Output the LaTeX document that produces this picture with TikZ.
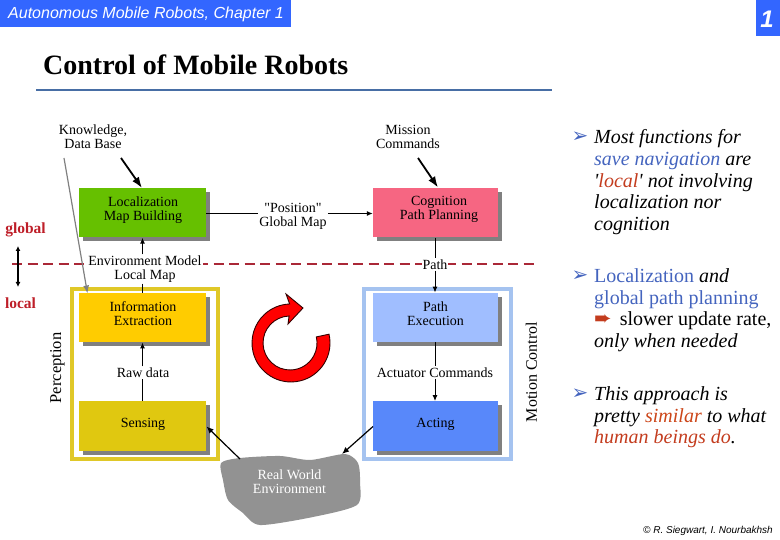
\documentclass[tikz,border=0pt]{standalone}
\usepackage{fontspec}
\setmainfont{Liberation Serif}
\newfontfamily\rawserif{Liberation Serif}
\newfontfamily\arialf{Liberation Sans}
\newfontfamily\dejavu{DejaVu Sans}
\usetikzlibrary{arrows.meta,calc}
\definecolor{hdrblue}{RGB}{51,102,255}
\definecolor{rulecol}{RGB}{72,110,165}
\definecolor{locgreen}{RGB}{102,192,0}
\definecolor{cogpink}{RGB}{246,102,130}
\definecolor{infoyel}{RGB}{255,204,0}
\definecolor{senseyel}{RGB}{224,200,16}
\definecolor{pathblue}{RGB}{160,190,255}
\definecolor{actblue}{RGB}{88,136,250}
\definecolor{framey}{RGB}{224,200,40}
\definecolor{frameb}{RGB}{165,195,240}
\definecolor{shadowg}{RGB}{128,128,128}
\definecolor{blobg}{RGB}{146,146,146}
\definecolor{dashred}{RGB}{170,40,55}
\definecolor{txtblue}{RGB}{68,100,190}
\definecolor{txtred}{RGB}{195,60,30}
\definecolor{labred}{RGB}{190,30,40}
\tikzset{
  x=1pt,y=1pt,
  blockbox/.style={minimum width=#1,minimum height=49.5pt,inner sep=0pt},
  lab/.style={font=\fontsize{14}{14}\selectfont,align=center,inner sep=1pt},
  wlab/.style={lab,fill=white},
  flow/.style={draw=black,line width=1pt,-{Latex[length=6pt,width=5pt]}},
  flowthick/.style={draw=black,line width=1.8pt,-{Latex[length=11pt,width=8pt]}},
  flowmid/.style={draw=black,line width=1.2pt,-{Latex[length=7pt,width=6pt]}},
  plain/.style={draw=black,line width=1pt},
  para/.style={anchor=north west,align=left,inner sep=0pt,
    font=\fontsize{20}{21.7}\selectfont},
  parait/.style={para,font=\itshape\fontsize{20}{21.7}\selectfont},
  bul/.style={anchor=center,inner sep=0pt,text=txtblue,font=\dejavu\fontsize{20}{20}\selectfont},
  side/.style={rotate=90,inner sep=0pt},
  zone/.style={font=\bfseries\fontsize{15.5}{16}\selectfont,text=labred,inner sep=0pt},
}
\newcommand{\shadowbox}[4]{%
  \fill[shadowg] (#1+4,-#2-4) rectangle (#3+4,-#4-4);}
\begin{document}
\begin{tikzpicture}
\useasboundingbox (0,-540) rectangle (780,0);
% header
\fill[hdrblue] (0,0) rectangle (291,-27);
\fill[hdrblue] (756,0) rectangle (780,-36);
\node[text=white,inner sep=0pt,anchor=west,font=\arialf\itshape\fontsize{16}{16}\selectfont] (hdr) at (8,-14) {Autonomous Mobile Robots, Chapter 1};
\node[text=white,inner sep=0pt,font=\arialf\bfseries\itshape\fontsize{24}{24}\selectfont] (pg) at (767,-19) {1};
\node[anchor=west,inner sep=0pt,font=\bfseries\fontsize{28}{28}\selectfont] (title) at (43,-65) {Control of Mobile Robots};
\fill[rulecol] (36,-89) rectangle (552,-91);
% dashed divider
\draw[dashred,line width=2pt,dash pattern=on 10pt off 5.5pt] (12,-264) -- (534,-264);
% frames
\draw[framey,line width=4pt] (72,-289) rectangle (218,-459);
\draw[frameb,line width=4pt] (364,-289) rectangle (511,-459);
% shadows
\shadowbox{79}{188}{206}{237.5}
\shadowbox{373}{188}{498}{237.5}
\shadowbox{79}{293}{206}{342}
\shadowbox{373}{293}{498}{342}
\shadowbox{79}{401}{206}{451}
\shadowbox{373}{401}{498}{451}
% blocks
\node[blockbox=127pt,fill=locgreen] (loc) at (142.5,-212.75) {};
\node[lab] (loctxt) at (143,-210) {Localization\\Map Building};
\node[blockbox=125pt,fill=cogpink] (cog) at (435.5,-212.75) {};
\node[lab] (cogtxt) at (439,-209) {Cognition\hspace{8pt}\\Path Planning};
\node[blockbox=127pt,fill=infoyel] (info) at (142.5,-317.5) {};
\node[lab] (infotxt) at (143,-314) {Information\\Extraction};
\node[blockbox=125pt,fill=pathblue] (pex) at (435.5,-317.5) {};
\node[lab] (pextxt) at (435.5,-314) {Path\\Execution};
\node[blockbox=127pt,fill=senseyel] (sens) at (142.5,-426) {};
\node[lab] (senstxt) at (143,-424) {Sensing};
\node[blockbox=125pt,fill=actblue] (act) at (435.5,-426) {};
\node[lab] (acttxt) at (435.5,-424) {Acting};
% environment blob
\fill[blobg] plot[smooth cycle,tension=0.45] coordinates {(221,-463) (240,-458) (280,-456) (310,-460) (345,-454) (358,-463) (360,-482) (357,-505) (313,-517) (260,-525) (243,-513) (228,-500) (223,-480)};
\node[lab,text=white] (world) at (289.5,-482) {Real World\\Environment};
% labels
\node[lab] (know) at (93,-137) {Knowledge,\\Data Base};
\node[lab] (miss) at (408,-137) {Mission\\Commands};
\node[wlab] (pos) at (293,-216.5) {{\rawserif"Position"}\\Global Map};
\node[wlab] (env) at (145,-269) {Environment Model\\Local Map};
\node[wlab] (pth) at (435,-264.5) {Path};
\node[wlab] (raw) at (143,-372.5) {Raw data};
\node[wlab] (acm) at (435,-372.5) {Actuator Commands};
% free ends
\coordinate (k1) at (121,-158);
\coordinate (k2) at (142,-188);
\coordinate (g1) at (64,-158);
\coordinate (g2) at (87.5,-293.5);
\coordinate (m1) at (418,-158);
\coordinate (m2) at (438,-187.5);
\coordinate (s1) at (240,-459);
\coordinate (s2) at (206.5,-426.5);
\coordinate (a1) at (373,-426.5);
\coordinate (a2) at (342,-454);
% connectors
\draw[flowthick] (k1) -- (k2);
\draw[flowthick] (m1) -- (m2);
\draw[draw=shadowg,line width=1.2pt,-{Latex[length=8pt,width=6pt]}] (g1) -- (g2);
\draw[plain] (loc.east |- pos.west) ++(0,3) -- ($(pos.west)+(0,3)$);
\draw[flow] ($(pos.east)+(0,3)$) -- (cog.west |- {$(pos.east)+(0,3)$});
\draw[plain] (cog.south -| pth.north) -- (pth.north);
\draw[flow] (pth.south) -- (pex.north -| pth.south);
\draw[flow,line width=1.5pt] (env.north -| loc.south) -- (loc.south);
\draw[plain,line width=1.5pt] (env.south -| info.north) -- (info.north);
\draw[flow,line width=1.5pt] (raw.north -| info.south) -- (info.south);
\draw[plain,line width=1.5pt] (sens.north) -- (raw.south -| sens.north);
\draw[plain] (pex.south -| acm.north) -- (acm.north);
\draw[flow] (acm.south) -- (act.north -| acm.south);
\draw[flowmid] (s1) -- (s2);
\draw[flowmid] (a1) -- (a2);
% zone arrow and side labels
\coordinate (z1) at (18,-246);
\coordinate (z2) at (18,-287);
\draw[line width=1.3pt,{Latex[length=5pt,width=5pt]}-{Latex[length=5pt,width=5pt]}] (z1) -- (z2);
\node[zone] (glob) at (25.5,-230) {global};
\node[zone] (locl) at (20.5,-303) {local};
\node[side,font=\fontsize{16.5}{16.5}\selectfont] (perc) at (57.5,-368) {Perception};
\node[side,font=\fontsize{16}{16}\selectfont] (moti) at (531.5,-372) {Motion Control};
% cycle arrow
\draw[fill=red,draw=black!80!red,line width=0.9pt]
  (329,-334.2) arc[start angle=13,end angle=-268,radius=39]
  -- (286,-294) -- (303,-308) -- (288,-324) -- (289.1,-316)
  arc[start angle=-268,end angle=13,radius=27] -- cycle;
% bullets
\node[bul] (b1) at (580,-137) {➢};
\node[parait] (p1) at (594,-129.5) {Most functions for\\
  \textcolor{txtblue}{save navigation} are\\
  \textquotesingle\textcolor{txtred}{local}\textquotesingle{} not involving\\
  localization nor\\
  cognition};
\node[bul] (b2) at (580,-276) {➢};
\node[para] (p2) at (594,-268.5) {\textcolor{txtblue}{Localization} \textit{and}\\
  \textcolor{txtblue}{global path planning}\\
  \textcolor{txtred}{\dejavu\fontsize{21}{21}\selectfont ➨}\hspace{8pt}slower update rate,\\
  \textit{only when needed}};
\node[bul] (b3) at (580,-394) {➢};
\node[parait] (p3) at (594,-386.5) {This approach is\\
  pretty \textcolor{txtred!85!orange}{similar} to what\\
  \textcolor{txtred}{human beings do}.};
\node[anchor=east,inner sep=0pt,font=\arialf\itshape\fontsize{10}{10}\selectfont] (copy) at (773,-531) {© R. Siegwart, I. Nourbakhsh};
\end{tikzpicture}
\end{document}
